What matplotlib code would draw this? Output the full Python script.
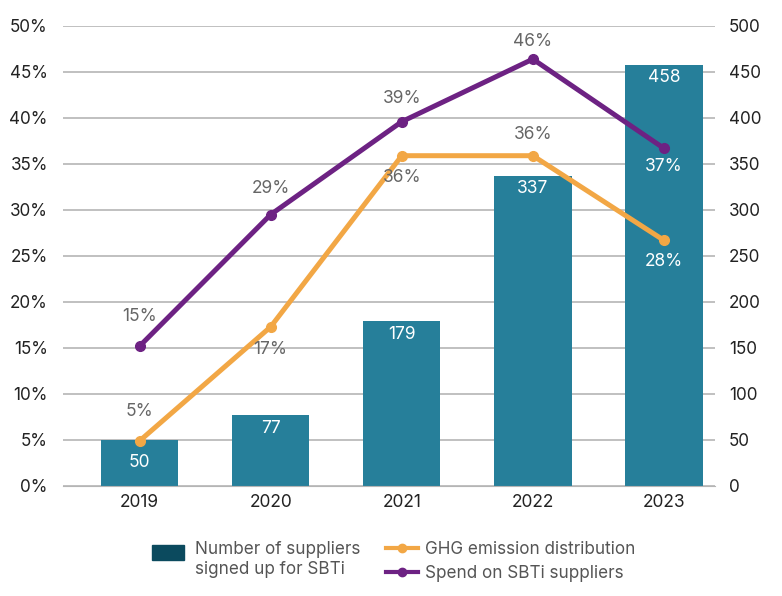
import numpy as np
import matplotlib.pyplot as plt
from matplotlib.patches import Patch, Rectangle
from matplotlib.lines import Line2D
from matplotlib.legend_handler import HandlerPatch

plt.rcParams['font.family'] = ['Inter', 'DejaVu Sans']

years = ['2019', '2020', '2021', '2022', '2023']
suppliers = [50, 77, 179, 337, 458]
ghg = [4.9, 17.3, 35.9, 35.9, 26.7]
ghg_labels = ['5%', '17%', '36%', '36%', '28%']
spend = [15.2, 29.5, 39.6, 46.4, 36.7]
spend_labels = ['15%', '29%', '39%', '46%', '37%']

bar_col = '#267f9a'
orange = '#f2a745'
purple = '#6d2283'
grey_txt = '#666666'
grid_col = '#b5b5b5'

fig = plt.figure(figsize=(7.82, 5.96), dpi=100)
ax = fig.add_axes([0.0806, 0.1846, 0.8338, 0.7718])
ax2 = ax.twinx()
x = np.arange(len(years))

# bars on right axis, under the lines
ax2.set_zorder(1)
ax.set_zorder(2)
ax.patch.set_visible(False)

ax2.bar(x, suppliers, width=0.59, color=bar_col, zorder=2)
ax2.set_ylim(0, 500)
ax2.set_yticks(range(0, 501, 50))
ax2.yaxis.grid(True, color=grid_col, linewidth=1.2, zorder=0)
ax2.set_axisbelow(True)
for i, v in enumerate(suppliers):
    yy = v / 2 if v < 60 else v - 14
    ax2.text(i, yy, str(v), ha='center', va='center', color='white', fontsize=12.5)

ax.plot(x, ghg, color=orange, lw=3.6, marker='o', ms=7, solid_capstyle='round')
ax.plot(x, spend, color=purple, lw=3.6, marker='o', ms=7, solid_capstyle='round')
ax.set_ylim(0, 50)
ax.set_xlim(-0.584, 4.39)
ax2.set_xlim(-0.584, 4.39)
ax.set_yticks(range(0, 51, 5))
ax.set_yticklabels([f'{v}%' for v in range(0, 51, 5)])
ax.set_xticks(x)
ax.set_xticklabels(years)

# label offsets in points (above +, below -)
ghg_off = [21, -16, -16, 15, -15]
spend_off = [21, 19, 17, 13, -13]
for i in range(len(years)):
    c = 'white' if i == 4 else grey_txt
    ax.annotate(ghg_labels[i], (i, ghg[i]), xytext=(0, ghg_off[i]), textcoords='offset points',
                ha='center', va='center', color=c, fontsize=12.5)
    ax.annotate(spend_labels[i], (i, spend[i]), xytext=(0, spend_off[i]), textcoords='offset points',
                ha='center', va='center', color=c, fontsize=12.5)

for a in (ax, ax2):
    for s in a.spines.values():
        s.set_visible(False)
    a.tick_params(length=0, labelsize=12.3, colors='#222222')
ax.spines['bottom'].set_visible(True)
ax.spines['bottom'].set_color(grid_col)
ax.tick_params(axis='y', pad=11)
ax.tick_params(axis='x', pad=6, labelsize=12.5)
ax2.tick_params(axis='y', pad=10)


def top_patch(legend, orig_handle, xdescent, ydescent, width, height, fontsize):
    # sit the swatch next to the first text line
    return Rectangle((-xdescent, -ydescent + 0.45 * fontsize), width, height)


leg1 = fig.legend([Patch(color='#0b4a5e')], ['Number of suppliers\nsigned up for SBTi'],
                  loc='upper left', bbox_to_anchor=(0.1944, 0.0923), frameon=False,
                  fontsize=12.3, handlelength=1.9, handleheight=0.95, handletextpad=0.6,
                  borderpad=0, borderaxespad=0,
                  handler_map={Patch: HandlerPatch(patch_func=top_patch)})
leg2 = fig.legend([Line2D([], [], color=orange, lw=3, marker='o', ms=6),
                   Line2D([], [], color=purple, lw=3, marker='o', ms=6)],
                  ['GHG emission distribution', 'Spend on SBTi suppliers'],
                  loc='upper left', bbox_to_anchor=(0.4936, 0.0923), frameon=False,
                  fontsize=12.3, handlelength=1.9, labelspacing=0.4, handletextpad=0.4,
                  borderpad=0, borderaxespad=0)
for leg in (leg1, leg2):
    for t in leg.get_texts():
        t.set_color('#555555')

fig.savefig('out.png', dpi=100)
